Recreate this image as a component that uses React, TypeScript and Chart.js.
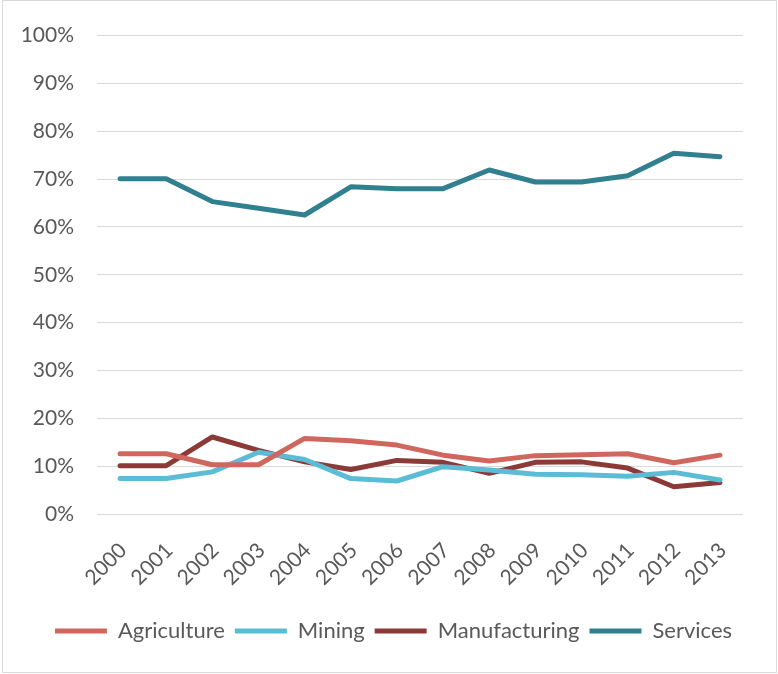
import React, { useEffect, useRef } from "react";
import { Chart, registerables } from "chart.js";

Chart.register(...registerables);

const years = ["2000", "2001", "2002", "2003", "2004", "2005", "2006", "2007", "2008", "2009", "2010", "2011", "2012", "2013"];
const agriculture = [12.6, 12.6, 10.3, 10.3, 15.8, 15.3, 14.4, 12.3, 11.1, 12.2, 12.4, 12.6, 10.7, 12.3];
const mining = [7.4, 7.4, 8.8, 12.9, 11.4, 7.4, 6.9, 9.9, 9.2, 8.3, 8.2, 7.9, 8.7, 7.1];
const manufacturing = [10.1, 10.1, 16.1, 13.3, 10.9, 9.3, 11.2, 10.8, 8.5, 10.8, 10.9, 9.6, 5.7, 6.6];
const services = [70.1, 70.1, 65.3, 63.9, 62.5, 68.4, 68.0, 68.0, 71.9, 69.4, 69.4, 70.7, 75.4, 74.7];

const FONT = "Lato, 'Open Sans', sans-serif";
const TEXT = "#595959";
const GRID = "#d9d9d9";

export default function App() {
  const ref = useRef<HTMLCanvasElement | null>(null);

  useEffect(() => {
    if (!ref.current) return;
    const mk = (label: string, data: number[], color: string) => ({
      label,
      data,
      borderColor: color,
      backgroundColor: color,
      borderWidth: 5,
      pointRadius: 0,
      pointHoverRadius: 0,
      tension: 0,
      borderCapStyle: "round" as const,
      borderJoinStyle: "round" as const,
      fill: false,
    });
    const chart = new Chart(ref.current, {
      type: "line",
      data: {
        labels: years,
        datasets: [
          mk("Agriculture", agriculture, "#d0675f"),
          mk("Mining", mining, "#5bbcd6"),
          mk("Manufacturing", manufacturing, "#8b3a37"),
          mk("Services", services, "#31808f"),
        ],
      },
      options: {
        animation: false,
        responsive: false,
        maintainAspectRatio: false,
        layout: { padding: { left: 9, right: 0, top: 34, bottom: 22 } },
        plugins: {
          tooltip: { enabled: false },
          legend: {
            position: "bottom",
            labels: {
              usePointStyle: true,
              pointStyle: "line",
              pointStyleWidth: 52,
              boxHeight: 5,
              padding: 10,
              color: TEXT,
              font: { family: FONT, size: 22 },
            },
          },
        },
        scales: {
          x: {
            offset: true,
            grid: { display: false, drawTicks: false },
            border: { display: false },
            ticks: {
              color: TEXT,
              font: { family: FONT, size: 21 },
              minRotation: 45,
              maxRotation: 45,
              autoSkip: false,
              padding: 24,
              labelOffset: 3,
            },
            afterFit: (s: any) => {
              s.height = 96;
            },
          },
          y: {
            min: 0,
            max: 100,
            grid: { color: GRID, lineWidth: 1, drawTicks: false },
            border: { display: false },
            ticks: {
              stepSize: 10,
              color: TEXT,
              font: { family: FONT, size: 21 },
              padding: 23,
              callback: (v: any) => v + "%",
            },
            afterFit: (s: any) => {
              s.width = 88;
            },
          },
          yRight: {
            position: "right",
            min: 0,
            max: 100,
            grid: { display: false, drawTicks: false },
            border: { display: false },
            ticks: { display: false },
            afterFit: (s: any) => {
              s.width = 35;
            },
          },
        },
      },
    });
    return () => chart.destroy();
  }, []);

  return (
    <div
      style={{
        position: "fixed",
        left: 0,
        top: 0,
        width: 778,
        height: 674,
        background: "#fff",
      }}
    >
      <canvas ref={ref} width={778} height={674} style={{ display: "block" }} />
      <div
        style={{
          position: "absolute",
          left: 2,
          top: 0,
          width: 773,
          height: 671,
          border: "1px solid #d9d9d9",
          pointerEvents: "none",
        }}
      />
    </div>
  );
}
